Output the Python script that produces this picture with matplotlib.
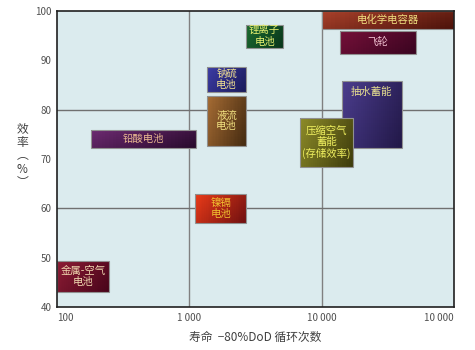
import numpy as np
import matplotlib
matplotlib.use("Agg")
import matplotlib.pyplot as plt
from matplotlib.colors import LinearSegmentedColormap
from matplotlib.patches import Rectangle

plt.rcParams['font.family'] = ['Noto Sans CJK SC', 'DejaVu Sans']

# storage technologies: cycle life range (80% DoD) and efficiency range (%)
names = ["电化学电容器", "飞轮", "抽水蓄能", "压缩空气\n蓄能\n(存储效率)", "锂离子\n电池",
         "钠硫\n电池", "液流\n电池", "铅酸电池", "镍镉\n电池", "金属-空气\n电池"]
life_lo = [10000, 13700, 14200, 6900, 2700, 1350, 1350, 180, 1110, 100]
life_hi = [100000, 51500, 40300, 17200, 5070, 2700, 2700, 1130, 2700, 248]
eff_lo = [96.3, 91.3, 72.2, 68.4, 92.5, 83.6, 72.6, 72.2, 57.0, 43.0]
eff_hi = [100, 95.9, 85.8, 78.3, 97.2, 88.6, 82.8, 75.9, 62.9, 49.3]
light = ["#a8402a", "#741038", "#4a3c8c", "#8c8a28", "#1c6a30",
         "#3c3ca4", "#a66c34", "#6c2a70", "#e83a18", "#8c1c34"]
dark = ["#4c120a", "#3a0420", "#221848", "#3e3c0c", "#08361a",
        "#1a1a5a", "#442a10", "#280a2c", "#701010", "#48041a"]
txt_col = ["#f0e080", "#f0c0d0", "#e8e090", "#f0f060", "#e8f070",
           "#f0e090", "#f0e080", "#e8b890", "#f0c030", "#f0d8b0"]

xticks = [100, 1000, 10000, 100000]
xtick_labels = ["100", "1 000", "10 000", "10 000"]
yticks = [40, 50, 60, 70, 80, 90, 100]

fig = plt.figure(figsize=(4.75, 3.5), dpi=100)
ax = fig.add_axes([0.12, 0.123, 0.836, 0.846])
ax.set_facecolor("#dbebee")
ax.set_xscale("log")
ax.set_xlim(100, 100000)
ax.set_ylim(40, 100)

# quadrant lines
ax.axvline(1000, color="#808080", lw=1, zorder=1)
ax.axvline(10000, color="#808080", lw=1, zorder=1)
ax.axhline(80, color="#707070", lw=1, zorder=1)
ax.axhline(60, color="#707070", lw=1, zorder=1)

# later boxes stack on top of earlier ones (compressed air over pumped hydro)
for k in range(len(names)):
    z = 2 + k * 0.1
    x0, x1, y0, y1 = life_lo[k], life_hi[k], eff_lo[k], eff_hi[k]
    xs = np.geomspace(x0, x1, 30)
    ys = np.linspace(y0, y1, 30)
    gx, gy = np.meshgrid(np.linspace(0, 1, 29), np.linspace(1, 0, 29))
    shade = 0.7 * gx + 0.3 * gy
    cmap = LinearSegmentedColormap.from_list("c%d" % k, [light[k], dark[k]])
    ax.pcolormesh(xs, ys, shade, cmap=cmap, vmin=0, vmax=1, shading="flat", zorder=z)
    ax.add_patch(Rectangle((x0, y0), x1 - x0, y1 - y0, fill=False,
                           ec="#909090", lw=0.8, zorder=z + 0.01))
    cx = np.sqrt(x0 * x1)
    if names[k] == "抽水蓄能":
        ax.text(cx, y1 - 1.2, names[k], ha="center", va="top", fontsize=7.5,
                color=txt_col[k], zorder=z + 0.02, linespacing=1.15)
    else:
        ax.text(cx, (y0 + y1) / 2, names[k], ha="center", va="center", fontsize=7.5,
                color=txt_col[k], zorder=z + 0.02, linespacing=1.1)

for s in ax.spines.values():
    s.set_color("#202020")
    s.set_linewidth(1.2)
    s.set_zorder(5)

ax.set_xticks(xticks)
ax.set_xticklabels(xtick_labels)
ax.minorticks_off()
ax.set_yticks(yticks)
ax.tick_params(length=0, labelsize=7, labelcolor="#505050", pad=4)
labs = ax.get_xticklabels()
labs[0].set_ha("left")
labs[-1].set_ha("right")

fig.text(0.537, 0.035, "寿命  −80%DoD 循环次数", ha="center", va="center",
         fontsize=8.5, color="#404040")
fig.text(0.047, 0.555, "效\n率\n︵\n%\n︶", ha="center", va="center",
         fontsize=8.5, color="#404040", linespacing=1.05)

fig.savefig("out.png", dpi=100)
